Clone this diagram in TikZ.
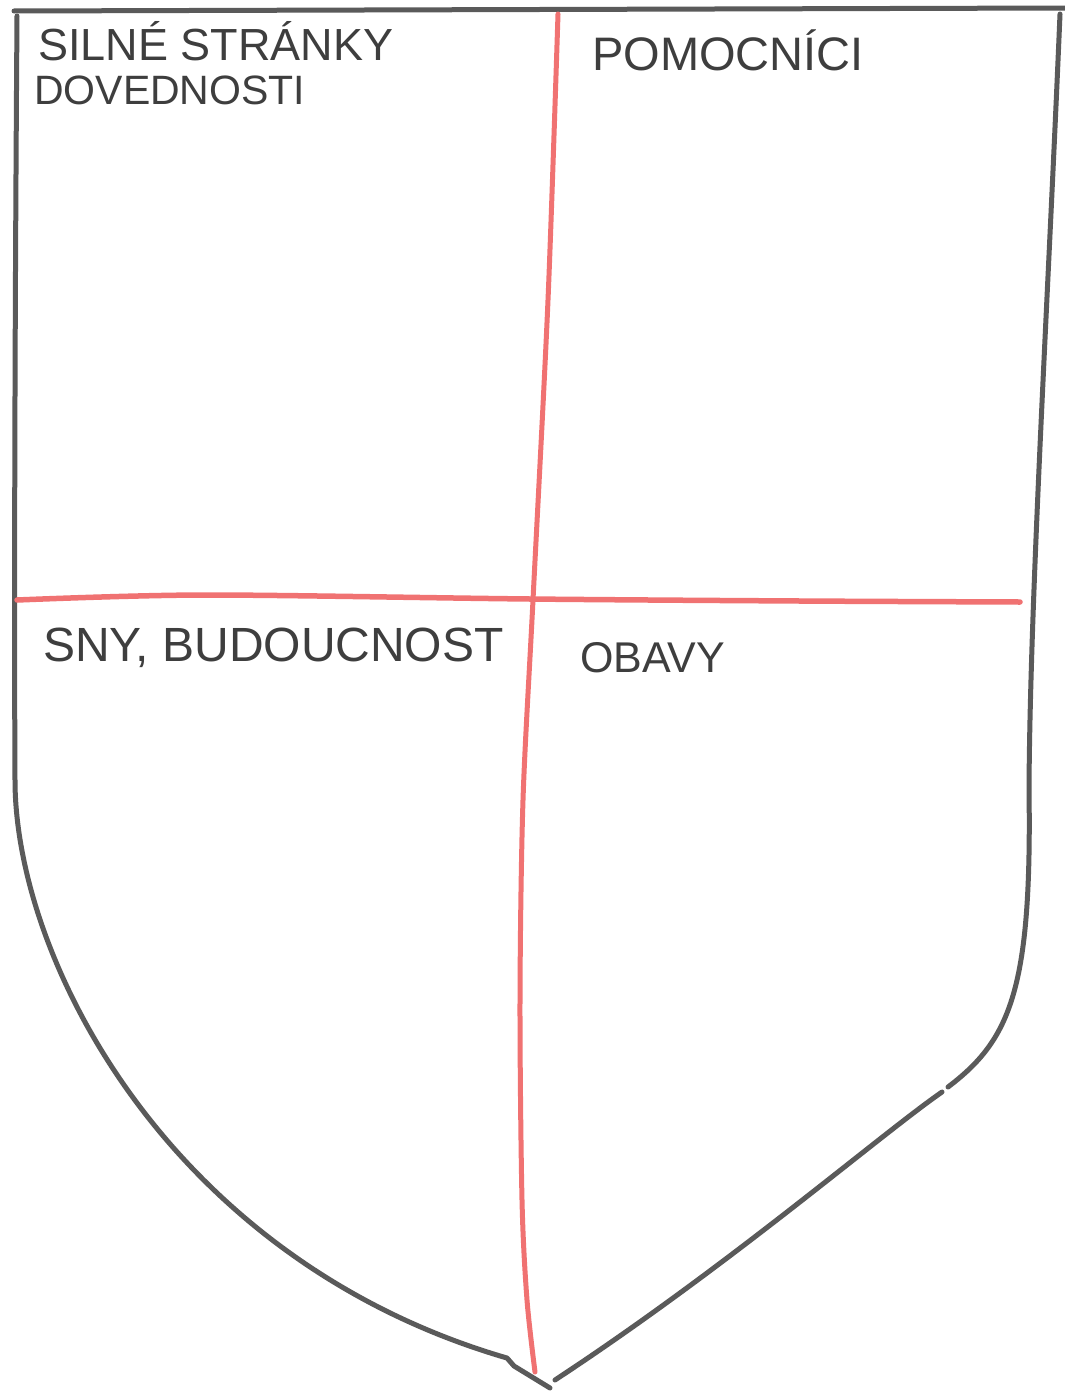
\documentclass[tikz,border=0pt]{standalone}
\usepackage{fontspec}
\setmainfont{Liberation Sans}
\definecolor{pen}{HTML}{5A5A5A}
\definecolor{ink}{HTML}{3E3E3E}
\definecolor{marker}{HTML}{F07272}
\begin{document}
\begin{tikzpicture}[x=1pt,y=-1pt,
  outline/.style={draw=pen,line width=5pt,line cap=round,line join=round},
  redline/.style={draw=marker,line width=5pt,line cap=round},
  hand/.style={text=ink,anchor=base west,inner sep=0pt}]
\useasboundingbox[fill=white] (0,0) rectangle (1065,1392);
% shield outline
\draw[outline] (14,11) -- (1065,8);
\draw[outline] (17,16) .. controls (15,300) and (14,600) .. (15,780)
  .. controls (15,960) and (170,1260) .. (507,1358) -- (514,1366) -- (550,1388);
\draw[outline] (1060,14) .. controls (1048,300) and (1030,600) .. (1029,790)
  .. controls (1032,990) and (1010,1040) .. (948,1087);
\draw[outline] (942,1092) .. controls (880,1135) and (730,1265) .. (555,1380);
% red dividing lines
\draw[redline] plot[smooth] coordinates {(558,14) (548,300) (533,600) (523,800) (520,1000) (522,1200) (527,1300) (535,1372)};
\draw[redline,line width=5.5pt] plot[smooth] coordinates {(17,600) (204,595) (530,599) (800,601) (1020,602)};
% labels
\node[hand,font=\fontsize{45}{48}\selectfont] (strong) at (38,60) {SILNÉ STRÁNKY};
\node[hand,font=\fontsize{41}{44}\selectfont] (skills) at (34,104) {DOVEDNOSTI};
\node[hand,font=\fontsize{47}{50}\selectfont] (helpers) at (592,70) {POMOCNÍCI};
\node[hand,font=\fontsize{48}{52}\selectfont] (dreams) at (43,661) {SNY, BUDOUCNOST};
\node[hand,font=\fontsize{43}{46}\selectfont] (fears) at (580,672) {OBAVY};
\end{tikzpicture}
\end{document}
